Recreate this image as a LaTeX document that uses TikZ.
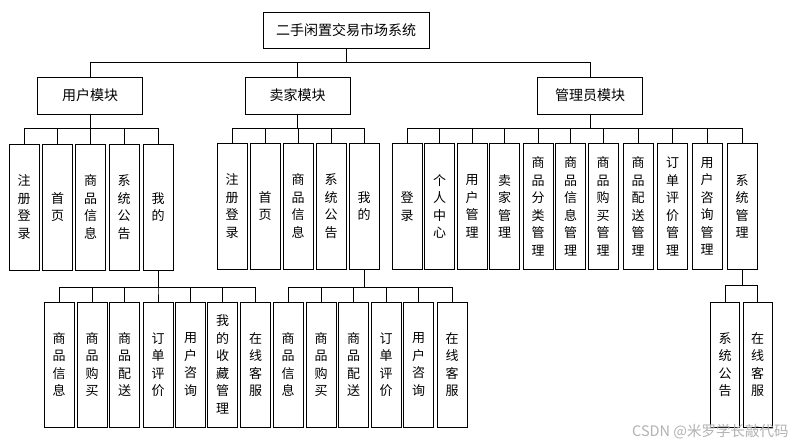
\documentclass[tikz,border=0pt]{standalone}
\usepackage{fontspec}
\newfontfamily\cjk{Noto Sans CJK SC}
\begin{document}
\begin{tikzpicture}[x=1pt,y=-1pt,
  line width=0.9pt,
  topbox/.style={draw, minimum width=166pt, minimum height=36pt, inner sep=0pt, font=\cjk\fontsize{14}{16}\selectfont},
  modbox/.style={draw, minimum width=105pt, minimum height=37pt, inner sep=0pt, font=\cjk\fontsize{14}{16}\selectfont},
  vbox/.style={draw, minimum width=30pt, minimum height=126pt, inner sep=0pt, align=center, font=\cjk\fontsize{13}{17.5}\selectfont},
  link/.style={draw, line width=0.9pt}]
\useasboundingbox (0,0) rectangle (790,445);
\fill[white] (0,0) rectangle (790,445);
% root and modules
\node[topbox] (root) at (346,30) {二手闲置交易市场系统};
\node[modbox] (mu) at (90,95.5) {用户模块};
\node[modbox] (ms) at (297.5,95.5) {卖家模块};
\node[modbox] (ma) at (590,95.5) {管理员模块};
\foreach \m in {mu,ms,ma} \draw[link] (root.south) -- ++(0,14) -| (\m.north);
% user children
\foreach \n/\x/\t in {u1/24/{注\\册\\登\\录}, u2/57.5/{首\\页}, u3/90.5/{商\\品\\信\\息}, u4/124/{系\\统\\公\\告}, u5/158/{我\\的}}{
  \node[vbox] (\n) at (\x,207) {\t};
  \draw[link] (mu.south) -- ++(0,14) -| (\n.north);
}
% seller children
\foreach \n/\x/\t in {s1/232/{注\\册\\登\\录}, s2/265/{首\\页}, s3/298/{商\\品\\信\\息}, s4/331/{系\\统\\公\\告}, s5/364/{我\\的}}{
  \node[vbox] (\n) at (\x,206) {\t};
  \draw[link] (ms.south) -- ++(0,14) -| (\n.north);
}
% admin children
\foreach \n/\x/\t in {a1/407/{登\\录}, a2/439.5/{个\\人\\中\\心}, a3/472/{用\\户\\管\\理}, a4/504.5/{卖\\家\\管\\理}, a5/538/{商\\品\\分\\类\\管\\理}, a6/570.5/{商\\品\\信\\息\\管\\理}, a7/603/{商\\品\\购\\买\\管\\理}, a8/638/{商\\品\\配\\送\\管\\理}, a9/672.5/{订\\单\\评\\价\\管\\理}, a10/707/{用\\户\\咨\\询\\管\\理}, a11/742/{系\\统\\管\\理}}{
  \node[vbox] (\n) at (\x,206.5) {\t};
  \draw[link] (ma.south) -- ++(0,14) -| (\n.north);
}
% user "我的" children
\foreach \n/\x/\t in {um1/59/{商\\品\\信\\息}, um2/92/{商\\品\\购\\买}, um3/124.5/{商\\品\\配\\送}, um4/158/{订\\单\\评\\价}, um5/190.5/{用\\户\\咨\\询}, um6/222.5/{我\\的\\收\\藏\\管\\理}, um7/255.5/{在\\线\\客\\服}}{
  \node[vbox, minimum height=125pt] (\n) at (\x,364.5) {\t};
  \draw[link] (u5.south) -- ++(0,17) -| (\n.north);
}
% seller "我的" children
\foreach \n/\x/\t in {sm1/288/{商\\品\\信\\息}, sm2/321/{商\\品\\购\\买}, sm3/353.5/{商\\品\\配\\送}, sm4/386/{订\\单\\评\\价}, sm5/418.5/{用\\户\\咨\\询}, sm6/452/{在\\线\\客\\服}}{
  \node[vbox, minimum height=125pt] (\n) at (\x,364.5) {\t};
  \draw[link] (s5.south) -- ++(0,18) -| (\n.north);
}
% admin system management children
\foreach \n/\x/\t in {am1/725/{系\\统\\公\\告}, am2/757.5/{在\\线\\客\\服}}{
  \node[vbox, minimum width=29pt, minimum height=125pt] (\n) at (\x,364.5) {\t};
  \draw[link] (a11.south) -- ++(0,15) -| (\n.north);
}
\node[anchor=east, text=black!30, inner sep=0pt, font=\cjk\fontsize{14.5}{16}\selectfont] (wm) at (789,432) {CSDN @米罗学长敲代码};
\end{tikzpicture}
\end{document}
